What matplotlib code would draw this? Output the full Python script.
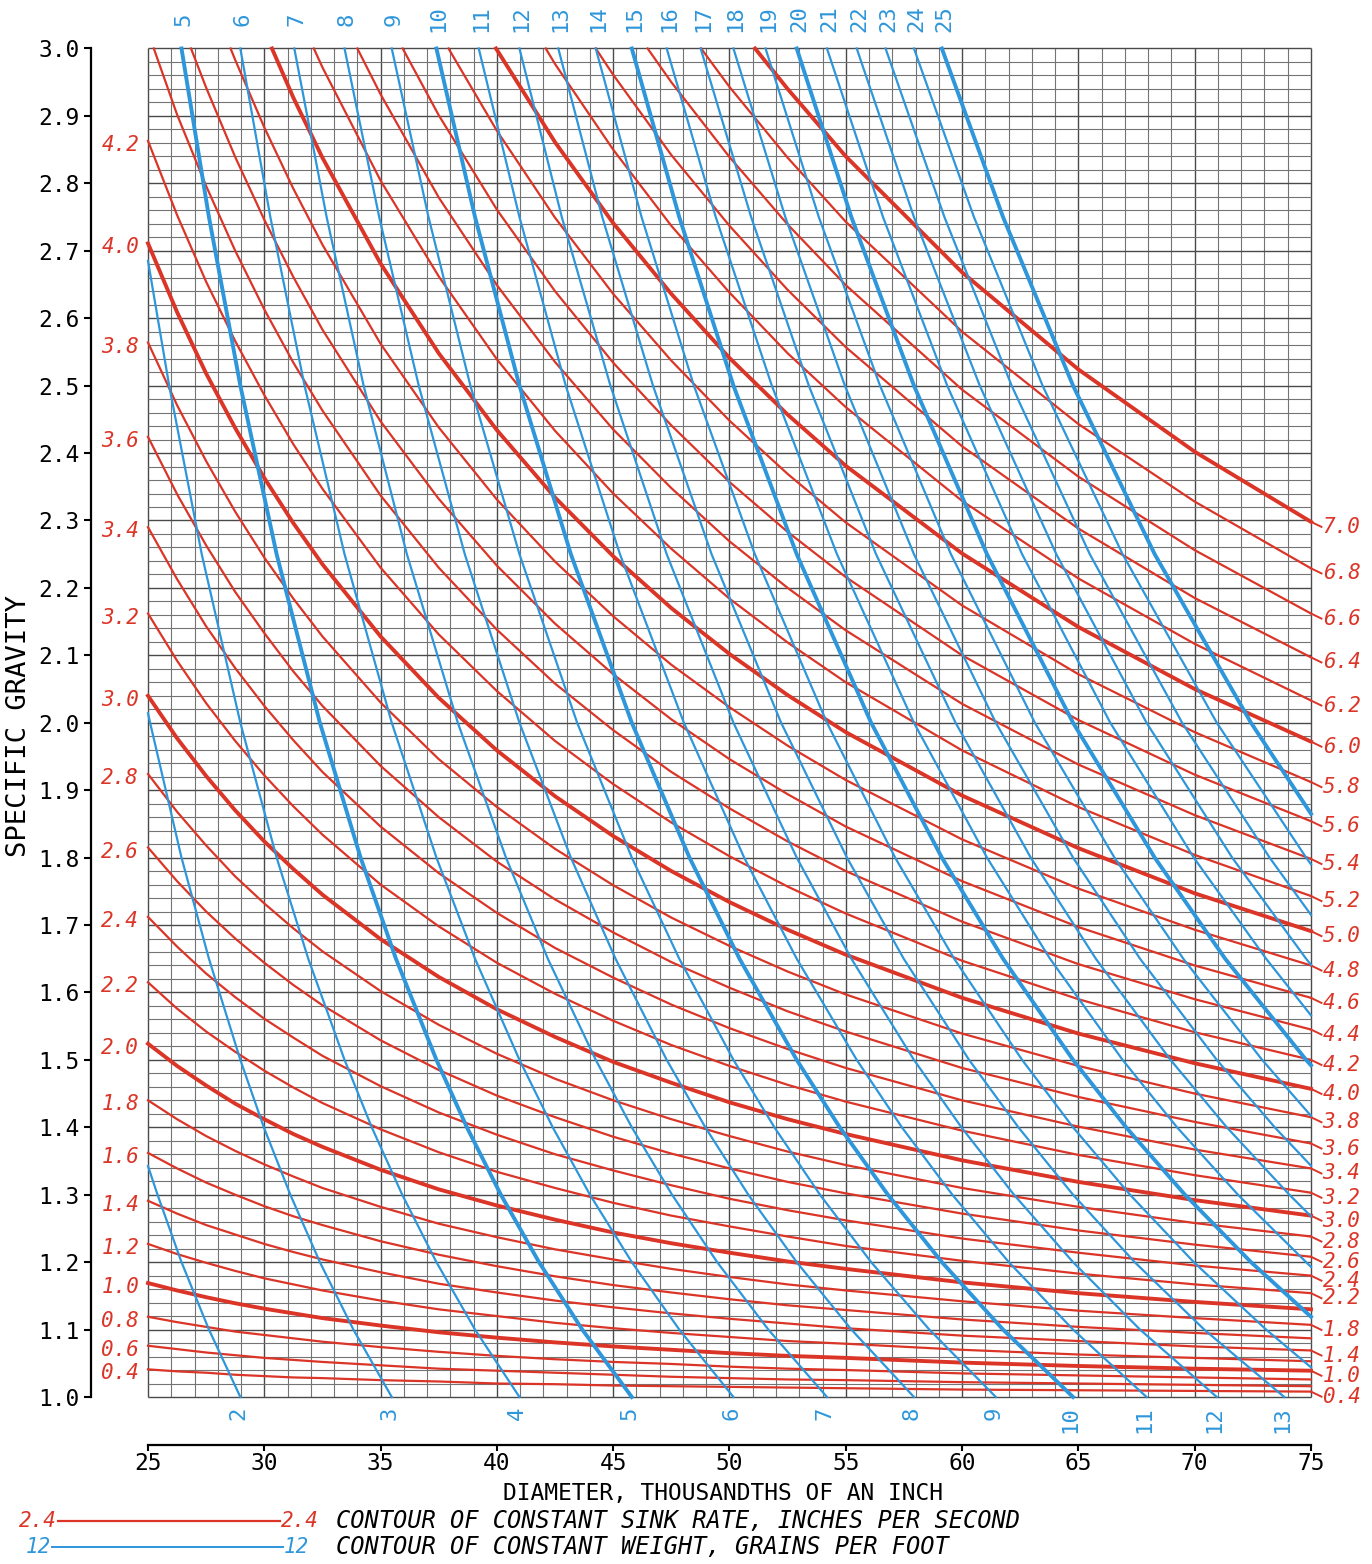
import numpy as np
import matplotlib.pyplot as plt

plt.rcParams['font.family'] = ['DejaVu Sans Mono']

RED = '#db3528'
BLUE = '#2e96da'
N = None

# sink-rate contours: specific gravity read at these diameters (thousandths of an inch)
sink_x = [25, 26.25, 27.5, 28.75, 30, 31.25, 32.5, 35, 37.5, 40, 42.5, 45, 47.5, 50, 52.5, 55, 60, 65, 70, 75]
sink_rates = [0.4, 0.6, 0.8, 1.0, 1.2, 1.4, 1.6, 1.8, 2.0, 2.2, 2.4, 2.6, 2.8, 3.0, 3.2, 3.4, 3.6,
              3.8, 4.0, 4.2, 4.4, 4.6, 4.8, 5.0, 5.2, 5.4, 5.6, 5.8, 6.0, 6.2, 6.4, 6.6, 6.8, 7.0]
sink_sg = [
    [1.041, 1.038, 1.036, 1.033, 1.031, 1.029, 1.028, 1.025, 1.023, 1.020, 1.019, 1.017, 1.016, 1.015, 1.014, 1.013, 1.011, 1.010, 1.009, 1.008],
    [1.076, 1.071, 1.066, 1.062, 1.058, 1.055, 1.052, 1.047, 1.042, 1.039, 1.036, 1.033, 1.030, 1.028, 1.026, 1.025, 1.022, 1.020, 1.018, 1.016],
    [1.119, 1.111, 1.104, 1.097, 1.092, 1.087, 1.082, 1.074, 1.067, 1.061, 1.056, 1.052, 1.049, 1.045, 1.042, 1.040, 1.035, 1.032, 1.029, 1.026],
    [1.169, 1.158, 1.148, 1.139, 1.131, 1.124, 1.117, 1.106, 1.096, 1.088, 1.081, 1.075, 1.070, 1.065, 1.061, 1.058, 1.051, 1.046, 1.042, 1.039],
    [1.227, 1.212, 1.199, 1.187, 1.176, 1.167, 1.158, 1.143, 1.130, 1.120, 1.110, 1.102, 1.095, 1.089, 1.083, 1.079, 1.070, 1.063, 1.058, 1.053],
    [1.291, 1.272, 1.255, 1.241, 1.227, 1.215, 1.204, 1.185, 1.168, 1.155, 1.143, 1.133, 1.124, 1.116, 1.109, 1.102, 1.091, 1.083, 1.075, 1.069],
    [1.362, 1.339, 1.318, 1.300, 1.283, 1.268, 1.255, 1.231, 1.211, 1.194, 1.179, 1.166, 1.155, 1.145, 1.136, 1.129, 1.115, 1.104, 1.095, 1.087],
    [1.440, 1.412, 1.387, 1.365, 1.345, 1.327, 1.310, 1.282, 1.257, 1.237, 1.219, 1.204, 1.190, 1.178, 1.167, 1.158, 1.142, 1.128, 1.117, 1.107],
    [1.524, 1.491, 1.462, 1.435, 1.412, 1.390, 1.371, 1.337, 1.308, 1.284, 1.263, 1.244, 1.228, 1.214, 1.201, 1.190, 1.170, 1.154, 1.141, 1.130],
    [1.615, 1.576, 1.542, 1.512, 1.484, 1.459, 1.436, 1.397, 1.363, 1.334, 1.310, 1.288, 1.269, 1.253, 1.238, 1.224, 1.202, 1.183, 1.167, 1.154],
    [1.712, 1.668, 1.628, 1.593, 1.561, 1.533, 1.506, 1.461, 1.422, 1.389, 1.360, 1.336, 1.314, 1.294, 1.277, 1.262, 1.235, 1.214, 1.195, 1.180],
    [1.815, 1.765, 1.720, 1.680, 1.644, 1.611, 1.581, 1.529, 1.485, 1.447, 1.415, 1.386, 1.361, 1.339, 1.319, 1.302, 1.272, 1.247, 1.226, 1.208],
    [1.924, 1.868, 1.818, 1.772, 1.732, 1.695, 1.661, 1.602, 1.552, 1.509, 1.472, 1.440, 1.412, 1.387, 1.364, 1.344, 1.310, 1.282, 1.258, 1.238],
    [2.040, 1.977, 1.921, 1.870, 1.824, 1.783, 1.745, 1.679, 1.623, 1.575, 1.534, 1.497, 1.466, 1.437, 1.412, 1.390, 1.351, 1.319, 1.292, 1.269],
    [2.162, 2.092, 2.029, 1.973, 1.922, 1.876, 1.834, 1.760, 1.698, 1.644, 1.598, 1.558, 1.522, 1.491, 1.463, 1.438, 1.395, 1.359, 1.329, 1.303],
    [2.290, 2.213, 2.143, 2.081, 2.025, 1.974, 1.927, 1.846, 1.777, 1.718, 1.666, 1.622, 1.582, 1.547, 1.516, 1.488, 1.440, 1.401, 1.367, 1.339],
    [2.424, 2.339, 2.263, 2.194, 2.133, 2.076, 2.025, 1.936, 1.860, 1.794, 1.738, 1.689, 1.645, 1.607, 1.572, 1.542, 1.488, 1.445, 1.408, 1.376],
    [2.564, 2.471, 2.388, 2.313, 2.245, 2.184, 2.128, 2.030, 1.946, 1.875, 1.813, 1.759, 1.711, 1.669, 1.631, 1.597, 1.539, 1.491, 1.450, 1.415],
    [2.711, 2.609, 2.518, 2.437, 2.363, 2.296, 2.235, 2.128, 2.037, 1.959, 1.891, 1.832, 1.780, 1.734, 1.693, 1.656, 1.592, 1.539, 1.495, 1.457],
    [2.863, 2.753, 2.654, 2.566, 2.486, 2.413, 2.347, 2.230, 2.131, 2.047, 1.973, 1.909, 1.852, 1.802, 1.757, 1.717, 1.647, 1.590, 1.541, 1.500],
    [N] + [2.902, 2.796, 2.700, 2.613, 2.534, 2.463, 2.337, 2.230, 2.138, 2.058, 1.989, 1.927, 1.873, 1.824, 1.780, 1.705, 1.642, 1.590, 1.545],
    [N] * 2 + [2.942, 2.839, 2.746, 2.661, 2.583, 2.447, 2.332, 2.233, 2.147, 2.072, 2.005, 1.946, 1.894, 1.846, 1.765, 1.697, 1.640, 1.592],
    [N] * 3 + [2.983, 2.883, 2.792, 2.709, 2.562, 2.438, 2.331, 2.239, 2.158, 2.086, 2.023, 1.966, 1.915, 1.827, 1.754, 1.693, 1.640],
    [N] * 5 + [2.927, 2.838, 2.681, 2.548, 2.434, 2.334, 2.247, 2.170, 2.102, 2.041, 1.986, 1.892, 1.814, 1.747, 1.691],
    [N] * 6 + [2.972, 2.804, 2.662, 2.539, 2.433, 2.340, 2.258, 2.184, 2.119, 2.060, 1.959, 1.875, 1.804, 1.743],
    [N] * 7 + [2.932, 2.779, 2.649, 2.535, 2.435, 2.348, 2.269, 2.200, 2.137, 2.028, 1.938, 1.863, 1.798],
    [N] * 8 + [2.901, 2.761, 2.640, 2.534, 2.441, 2.357, 2.283, 2.216, 2.100, 2.004, 1.923, 1.854],
    [N] * 9 + [2.878, 2.749, 2.636, 2.537, 2.448, 2.369, 2.297, 2.174, 2.072, 1.986, 1.912],
    [N] * 9 + [2.998, 2.861, 2.741, 2.636, 2.541, 2.457, 2.381, 2.251, 2.142, 2.050, 1.972],
    [N] * 10 + [2.977, 2.850, 2.737, 2.638, 2.548, 2.468, 2.329, 2.214, 2.117, 2.033],
    [N] * 11 + [2.961, 2.842, 2.737, 2.642, 2.557, 2.410, 2.288, 2.185, 2.097],
    [N] * 12 + [2.950, 2.839, 2.739, 2.649, 2.494, 2.365, 2.256, 2.162],
    [N] * 13 + [2.943, 2.838, 2.743, 2.580, 2.443, 2.328, 2.229],
    [N] * 14 + [2.940, 2.840, 2.668, 2.524, 2.402, 2.298],
]
# diameter where a contour leaves through the top edge (SG 3.0)
sink_top_x = [N] * 20 + [25.25, 26.85, 28.55, 30.33, 32.13, 34.0, 35.95, 37.92,
                         39.96, 42.1, 44.25, 46.48, 48.78, 51.1]

left_labels = [0.4, 0.6, 0.8, 1.0, 1.2, 1.4, 1.6, 1.8, 2.0, 2.2, 2.4, 2.6, 2.8, 3.0,
               3.2, 3.4, 3.6, 3.8, 4.0, 4.2]
right_labels = [7.0, 6.8, 6.6, 6.4, 6.2, 6.0, 5.8, 5.6, 5.4, 5.2, 5.0, 4.8, 4.6, 4.4,
                4.2, 4.0, 3.8, 3.6, 3.4, 3.2, 3.0, 2.8, 2.6, 2.4, 2.2, 1.8, 1.4, 1.0, 0.4]

# weight contours (grains per foot): (diameter, specific gravity) points
weights = list(range(2, 26))
weight_pts = [
    [(28.97, 1.0), (27.62, 1.1), (26.44, 1.2), (25.41, 1.3), (25.0, 1.3425)],
    [(35.48, 1.0), (33.83, 1.1), (32.39, 1.2), (31.12, 1.3), (29.98, 1.4), (28.97, 1.5), (27.62, 1.65),
     (26.44, 1.8), (25.09, 2.0), (25.0, 2.014)],
    [(40.97, 1.0), (39.06, 1.1), (37.40, 1.2), (35.93, 1.3), (34.62, 1.4), (33.45, 1.5), (31.89, 1.65),
     (30.53, 1.8), (28.97, 2.0), (27.31, 2.25), (25.91, 2.5), (25.0, 2.685)],
    [(45.80, 1.0), (43.67, 1.1), (41.81, 1.2), (40.17, 1.3), (38.71, 1.4), (37.40, 1.5), (35.66, 1.65),
     (34.14, 1.8), (32.39, 2.0), (30.53, 2.25), (28.97, 2.5), (27.62, 2.75), (26.44, 3.0)],
    [(50.17, 1.0), (47.84, 1.1), (45.80, 1.2), (44.00, 1.3), (42.40, 1.4), (40.97, 1.5), (39.06, 1.65),
     (37.40, 1.8), (35.48, 2.0), (33.45, 2.25), (31.73, 2.5), (30.26, 2.75), (28.97, 3.0)],
    [(54.19, 1.0), (51.67, 1.1), (49.47, 1.2), (47.53, 1.3), (45.80, 1.4), (44.25, 1.5), (42.19, 1.65),
     (40.39, 1.8), (38.32, 2.0), (36.13, 2.25), (34.27, 2.5), (32.68, 2.75), (31.29, 3.0)],
    [(57.93, 1.0), (55.24, 1.1), (52.89, 1.2), (50.81, 1.3), (48.96, 1.4), (47.30, 1.5), (45.10, 1.65),
     (43.18, 1.8), (40.97, 2.0), (38.62, 2.25), (36.64, 2.5), (34.94, 2.75), (33.45, 3.0)],
    [(61.45, 1.0), (58.59, 1.1), (56.09, 1.2), (53.89, 1.3), (51.93, 1.4), (50.17, 1.5), (47.84, 1.65),
     (45.80, 1.8), (43.45, 2.0), (40.97, 2.25), (38.86, 2.5), (37.06, 2.75), (35.48, 3.0)],
    [(64.77, 1.0), (61.76, 1.1), (59.13, 1.2), (56.81, 1.3), (54.74, 1.4), (52.89, 1.5), (50.43, 1.65),
     (48.28, 1.8), (45.80, 2.0), (43.18, 2.25), (40.97, 2.5), (39.06, 2.75), (37.40, 3.0)],
    [(67.93, 1.0), (64.77, 1.1), (62.01, 1.2), (59.58, 1.3), (57.41, 1.4), (55.47, 1.5), (52.89, 1.65),
     (50.63, 1.8), (48.04, 2.0), (45.29, 2.25), (42.96, 2.5), (40.97, 2.75), (39.22, 3.0)],
    [(70.95, 1.0), (67.65, 1.1), (64.77, 1.2), (62.23, 1.3), (59.97, 1.4), (57.93, 1.5), (55.24, 1.65),
     (52.89, 1.8), (50.17, 2.0), (47.30, 2.25), (44.88, 2.5), (42.79, 2.75), (40.97, 3.0)],
    [(73.85, 1.0), (70.41, 1.1), (67.42, 1.2), (64.77, 1.3), (62.42, 1.4), (60.30, 1.5), (57.49, 1.65),
     (55.05, 1.8), (52.22, 2.0), (49.23, 2.25), (46.71, 2.5), (44.53, 2.75), (42.64, 3.0)],
    [(75.0, 1.044), (73.07, 1.1), (69.96, 1.2), (67.22, 1.3), (64.77, 1.4), (62.58, 1.5), (59.66, 1.65),
     (57.12, 1.8), (54.19, 2.0), (51.09, 2.25), (48.47, 2.5), (46.22, 2.75), (44.25, 3.0)],
    [(75.0, 1.119), (72.42, 1.2), (69.58, 1.3), (67.05, 1.4), (64.77, 1.5), (61.76, 1.65), (59.13, 1.8),
     (56.09, 2.0), (52.89, 2.25), (50.17, 2.5), (47.84, 2.75), (45.80, 3.0)],
    [(75.0, 1.193), (74.79, 1.2), (71.86, 1.3), (69.24, 1.4), (66.90, 1.5), (63.78, 1.65), (61.07, 1.8),
     (57.93, 2.0), (54.62, 2.25), (51.82, 2.5), (49.41, 2.75), (47.30, 3.0)],
    [(75.0, 1.268), (74.07, 1.3), (71.38, 1.4), (68.96, 1.5), (65.75, 1.65), (62.95, 1.8), (59.72, 2.0),
     (56.30, 2.25), (53.41, 2.5), (50.93, 2.75), (48.76, 3.0)],
    [(75.0, 1.343), (73.44, 1.4), (70.95, 1.5), (67.65, 1.65), (64.77, 1.8), (61.45, 2.0), (57.93, 2.25),
     (54.96, 2.5), (52.40, 2.75), (50.17, 3.0)],
    [(75.0, 1.417), (72.90, 1.5), (69.51, 1.65), (66.55, 1.8), (63.13, 2.0), (59.52, 2.25), (56.47, 2.5),
     (53.84, 2.75), (51.55, 3.0)],
    [(75.0, 1.492), (74.79, 1.5), (71.31, 1.65), (68.28, 1.8), (64.77, 2.0), (61.07, 2.25), (57.93, 2.5),
     (55.24, 2.75), (52.89, 3.0)],
    [(75.0, 1.566), (73.07, 1.65), (69.96, 1.8), (66.37, 2.0), (62.58, 2.25), (59.36, 2.5), (56.60, 2.75),
     (54.19, 3.0)],
    [(75.0, 1.641), (74.79, 1.65), (71.61, 1.8), (67.93, 2.0), (64.05, 2.25), (60.76, 2.5), (57.93, 2.75),
     (55.47, 3.0)],
    [(75.0, 1.715), (73.22, 1.8), (69.46, 2.0), (65.49, 2.25), (62.13, 2.5), (59.24, 2.75), (56.71, 3.0)],
    [(75.0, 1.790), (74.79, 1.8), (70.95, 2.0), (66.90, 2.25), (63.46, 2.5), (60.51, 2.75), (57.93, 3.0)],
    [(75.0, 1.865), (72.42, 2.0), (68.28, 2.25), (64.77, 2.5), (61.76, 2.75), (59.13, 3.0)],
]

fig = plt.figure(figsize=(13.72, 15.64), dpi=100)
ax = fig.add_axes([0.05701, 0.06367, 0.94091, 0.93550])
ax.set_xlim(22, 77.5)
ax.set_ylim(0.9, 3.07)

# graph paper
gx = np.arange(25, 76)
ax.vlines(gx, 1.0, 3.0, colors=['#4a4a4a' if g % 5 == 0 else '#747474' for g in gx],
          linewidths=[1.0 if g % 5 == 0 else 0.8 for g in gx], zorder=1)
gy = np.round(np.arange(1.0, 3.001, 0.02), 2)
ax.hlines(gy, 25, 75, colors=['#4a4a4a' if k % 5 == 0 else '#747474' for k in range(len(gy))],
          linewidths=[1.0 if k % 5 == 0 else 0.8 for k in range(len(gy))], zorder=1)

# sink rate contours
for v, ys, xt in zip(sink_rates, sink_sg, sink_top_x):
    xs = [x for x, y in zip(sink_x, ys) if y is not None]
    yy = [y for y in ys if y is not None]
    if xt is not None:
        xs = [xt] + xs
        yy = [3.0] + yy
    thick = abs(v - round(v)) < 1e-6
    ax.plot(xs, yy, color=RED, lw=2.8 if thick else 1.6, zorder=3)

for v in left_labels:
    y0 = sink_sg[sink_rates.index(v)][0]
    ax.text(24.62, y0 - 0.006, f'{v:.1f}', ha='right', va='center', color=RED,
            fontsize=15, style='italic')

for v in right_labels:
    y1 = sink_sg[sink_rates.index(v)][-1]
    yl = y1 - 0.0075
    ax.plot([75, 75.45], [y1, yl], color=RED, lw=1.4, clip_on=False, zorder=3)
    ax.text(75.5, yl, f'{v:.1f}', ha='left', va='center', color=RED,
            fontsize=15, style='italic')

# weight contours
for w, pts in zip(weights, weight_pts):
    xs = [p[0] for p in pts]
    yy = [p[1] for p in pts]
    ax.plot(xs, yy, color=BLUE, lw=2.8 if w % 5 == 0 else 1.6, zorder=4)
    if pts[0][1] == 1.0:
        ax.text(pts[0][0] - 0.1, 0.986, str(w), rotation=90, ha='center', va='top',
                color=BLUE, fontsize=16)
    if pts[-1][1] == 3.0:
        ax.text(pts[-1][0] + 0.1, 3.044, str(w), rotation=90, ha='center', va='center',
                color=BLUE, fontsize=16)

# axes
for s in ['top', 'right']:
    ax.spines[s].set_visible(False)
ax.spines['left'].set_position(('data', 22.54))
ax.spines['left'].set_bounds(1.0, 3.0)
ax.spines['bottom'].set_position(('data', 0.929))
ax.spines['bottom'].set_bounds(25, 75)
for s in ['left', 'bottom']:
    ax.spines[s].set_linewidth(1.6)

yt = np.round(np.arange(1.0, 3.001, 0.1), 1)
ax.set_yticks(yt)
ax.set_yticklabels([f'{t:.1f}' for t in yt])
ax.set_xticks(range(25, 80, 5))
ax.tick_params(axis='y', direction='out', length=5, width=1.5, pad=3, labelsize=16.5)
ax.tick_params(axis='x', direction='out', length=4.5, width=1.5, pad=0.5, labelsize=16.5)

ax.text(49.7, 0.8575, 'DIAMETER, THOUSANDTHS OF AN INCH', ha='center', va='center', fontsize=16.5)
ax.text(19.45, 1.995, 'SPECIFIC GRAVITY', ha='center', va='center', rotation=90, fontsize=19.5)

# legend
ax.plot([21.13, 30.67], [0.8155, 0.8155], color=RED, lw=1.6, clip_on=False)
ax.text(21.1, 0.8155, '2.4', ha='right', va='center', color=RED, fontsize=15, style='italic')
ax.text(30.7, 0.8155, '2.4', ha='left', va='center', color=RED, fontsize=15, style='italic')
ax.text(33.08, 0.8155, 'CONTOUR OF CONSTANT SINK RATE, INCHES PER SECOND', ha='left',
        va='center', fontsize=17, style='italic')
ax.plot([20.88, 30.8], [0.7775, 0.7775], color=BLUE, lw=1.4, clip_on=False)
ax.text(20.85, 0.7775, '12', ha='right', va='center', color=BLUE, fontsize=15, style='italic')
ax.text(30.83, 0.7775, '12', ha='left', va='center', color=BLUE, fontsize=15, style='italic')
ax.text(33.08, 0.7775, 'CONTOUR OF CONSTANT WEIGHT, GRAINS PER FOOT', ha='left',
        va='center', fontsize=17, style='italic')

fig.savefig('out.png', dpi=100)
